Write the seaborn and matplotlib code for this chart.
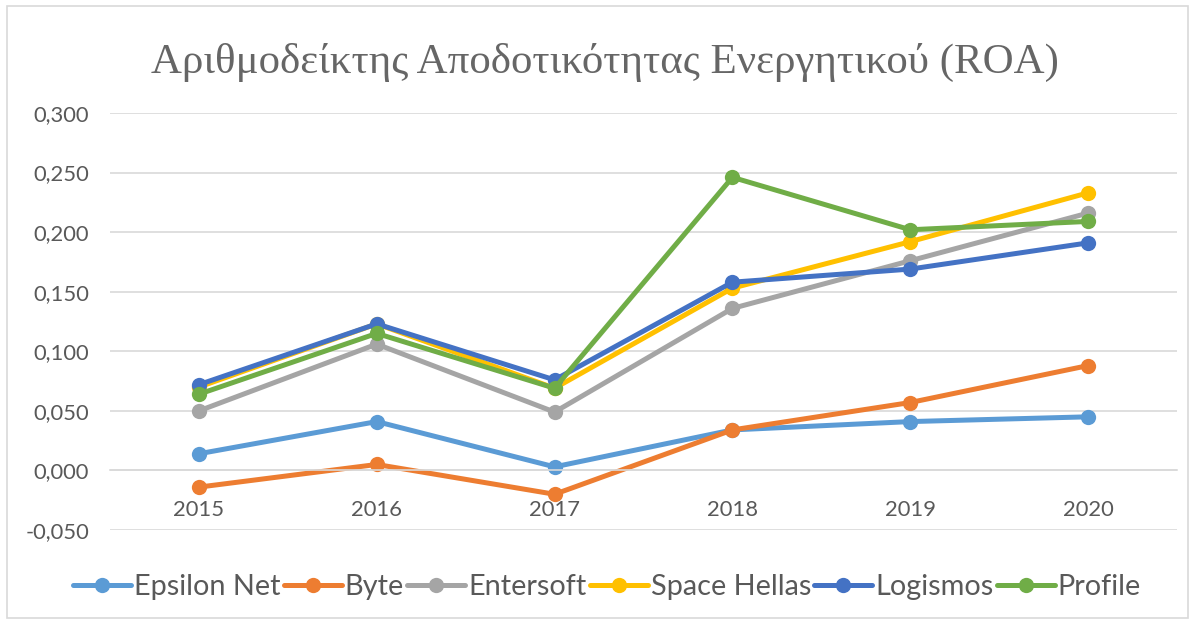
import pandas as pd
import matplotlib.pyplot as plt
import seaborn as sns
from matplotlib.ticker import FuncFormatter
from matplotlib.patches import Rectangle

# Chart data
years = [2015, 2016, 2017, 2018, 2019, 2020]
companies = ['Epsilon Net', 'Byte', 'Entersoft', 'Space Hellas', 'Logismos', 'Profile']
epsilon_net = [0.014, 0.041, 0.003, 0.034, 0.041, 0.045]
byte = [-0.014, 0.005, -0.020, 0.034, 0.057, 0.088]
entersoft = [0.050, 0.106, 0.049, 0.136, 0.176, 0.216]
space_hellas = [0.070, 0.123, 0.069, 0.153, 0.192, 0.233]
logismos = [0.072, 0.123, 0.076, 0.158, 0.169, 0.191]
profile = [0.064, 0.115, 0.069, 0.246, 0.202, 0.209]
colors = ['#5B9BD5', '#ED7D31', '#A5A5A5', '#FFC000', '#4472C4', '#70AD47']
y_ticks = [-0.05, 0.0, 0.05, 0.10, 0.15, 0.20, 0.25, 0.30]

series = [epsilon_net, byte, entersoft, space_hellas, logismos, profile]
df = pd.DataFrame([
    {'year': y, 'company': c, 'roa': v}
    for c, vals in zip(companies, series)
    for y, v in zip(years, vals)
])

sns.set_style('white')
plt.rcParams['font.family'] = ['Lato', 'DejaVu Sans']

fig = plt.figure(figsize=(11.95, 6.24), dpi=100)
ax = fig.add_axes([110 / 1195, 1 - 530 / 624, 1067 / 1195, 417 / 624])

sns.lineplot(data=df, x='year', y='roa', hue='company', hue_order=companies,
             palette=colors, marker='o', markersize=11, markeredgewidth=0,
             linewidth=3.6, legend=False, ax=ax)

ax.set_xlim(2014.5, 2020.5)
ax.set_ylim(-0.05, 0.30)
ax.set_yticks(y_ticks)
ax.yaxis.set_major_formatter(FuncFormatter(lambda v, p: f'{v:.3f}'.replace('.', ',')))
ax.set_xticks(years)
ax.set_xticklabels([str(y) for y in years])
ax.grid(axis='y', color='#D9D9D9', linewidth=1.2)
ax.set_axisbelow(True)
ax.tick_params(axis='both', length=0, labelsize=15.8, labelcolor='#595959')
ax.tick_params(axis='y', pad=15)
ax.tick_params(axis='x', pad=21)
ax.set_xlabel('')
ax.set_ylabel('')
for side in ['top', 'right', 'left']:
    ax.spines[side].set_visible(False)
ax.spines['bottom'].set_position(('data', 0))
ax.spines['bottom'].set_color('#D9D9D9')
ax.spines['bottom'].set_linewidth(1.2)

fig.text(0.506, 1 - 62 / 624, 'Αριθμοδείκτης Αποδοτικότητας Ενεργητικού (ROA)',
         ha='center', va='center', fontsize=30.9, color='#666666',
         family=['Liberation Serif', 'DejaVu Serif'])

handles = ax.get_lines()[:len(companies)]
fig.legend(handles, companies, loc='center', bbox_to_anchor=(0.508, 1 - 587 / 624),
           ncol=6, frameon=False, fontsize=20.8, labelcolor='#595959',
           handlelength=2.0, handletextpad=0.1, columnspacing=0.12)

# light chart-area border
fig.patches.append(Rectangle((7 / 1195, 6 / 624), 1181 / 1195, 612 / 624,
                             transform=fig.transFigure, fill=False,
                             edgecolor='#D9D9D9', linewidth=1.2))

fig.savefig('out.png', dpi=100)
